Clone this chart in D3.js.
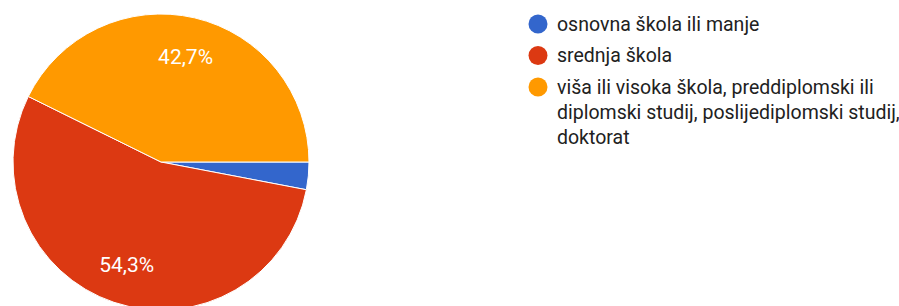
<!DOCTYPE html>
<html>
<head>
<meta charset="utf-8">
<script src="https://cdn.jsdelivr.net/npm/d3@7"></script>
<style>
  html, body { margin: 0; padding: 0; background: #fff; }
  svg { display: block; font-family: Roboto, Arial, sans-serif; }
</style>
</head>
<body>
<div id="chart"></div>
<script>
// data
const categories = [
  "osnovna škola ili manje",
  "srednja škola",
  "viša ili visoka škola, preddiplomski ili diplomski studij, poslijediplomski studij, doktorat"
];
const percents = [3.0, 54.3, 42.7];
const sliceLabels = ["", "54,3%", "42,7%"];
const colors = ["#3366cc", "#dc3912", "#ff9900"];

const width = 899, height = 306;
const cx = 161, cy = 162, radius = 148;

const svg = d3.select("#chart").append("svg")
  .attr("width", width)
  .attr("height", height);

// pie starts at 3 o'clock and runs clockwise
const pie = d3.pie()
  .sort(null)
  .value(d => d)
  .startAngle(Math.PI / 2)
  .endAngle(Math.PI / 2 + 2 * Math.PI);

const arc = d3.arc().innerRadius(0).outerRadius(radius);
const labelArc = d3.arc().innerRadius(radius * 0.73).outerRadius(radius * 0.73);

const arcs = pie(percents);

const g = svg.append("g")
  .attr("transform", `translate(${cx},${cy})`);

g.selectAll("path.slice")
  .data(arcs)
  .enter().append("path")
  .attr("class", "slice")
  .attr("d", arc)
  .attr("fill", (d, i) => colors[i])
  .attr("stroke", "#fff")
  .attr("stroke-width", 1);

g.selectAll("text.pct")
  .data(arcs)
  .enter().append("text")
  .attr("class", "pct")
  .attr("transform", d => `translate(${labelArc.centroid(d)})`)
  .attr("text-anchor", "middle")
  .attr("dy", "0.35em")
  .attr("fill", "#fff")
  .style("font-size", "21px")
  .text((d, i) => sliceLabels[i]);

// legend
const legendX = 538, textX = 557, firstBase = 30.5, itemGap = 31.5, lineH = 25, wrapW = 345;

const legend = svg.append("g").attr("class", "legend");
let base = firstBase;
categories.forEach(function(name, i) {
  legend.append("circle")
    .attr("cx", legendX)
    .attr("cy", base - 6.5)
    .attr("r", 9.5)
    .attr("fill", colors[i]);

  const t = legend.append("text")
    .attr("x", textX)
    .attr("y", base)
    .attr("fill", "#212121")
    .style("font-size", "19.5px");

  // simple word wrap
  const words = name.split(" ");
  let line = [];
  let tspan = t.append("tspan").attr("x", textX).attr("y", base);
  let lines = 1;
  words.forEach(function(w) {
    line.push(w);
    tspan.text(line.join(" "));
    if (tspan.node().getComputedTextLength() > wrapW && line.length > 1) {
      line.pop();
      tspan.text(line.join(" "));
      line = [w];
      tspan = t.append("tspan")
        .attr("x", textX)
        .attr("y", base + lines * lineH)
        .text(w);
      lines++;
    }
  });
  base += (lines - 1) * lineH + itemGap;
});
</script>
</body>
</html>
